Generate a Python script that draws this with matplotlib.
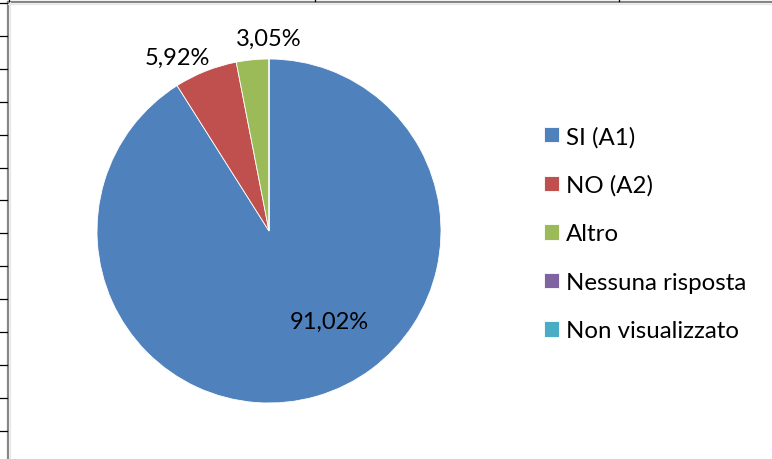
import numpy as np
import matplotlib
matplotlib.use("Agg")
import matplotlib.pyplot as plt

# data
categories = ["SI (A1)", "NO (A2)", "Altro", "Nessuna risposta", "Non visualizzato"]
values = [91.02, 5.92, 3.05, 0.0, 0.0]
colors = ["#4F81BD", "#C0504D", "#9BBB59", "#8064A2", "#4BACC6"]

# label placement (radial distance, angular nudge in degrees)
label_dist = [0.63, 1.14, 1.12, 0, 0]
label_nudge = [17.5, 6.3, -5.5, 0, 0]

W, H = 772, 460
plt.rcParams['font.family'] = ['Lato', 'DejaVu Sans']

fig = plt.figure(figsize=(W / 100, H / 100), dpi=100)

# spreadsheet background: frame and row/column lines
bg = fig.add_axes([0, 0, 1, 1])
bg.set_xlim(0, W)
bg.set_ylim(H, 0)
bg.axis('off')
bg.plot([8, 8], [3, H], color='#868686', lw=1.6)
bg.plot([8, W], [3, 3], color='#868686', lw=1.6)
bg.plot([10, 10], [3, H], color='#e6e6e6', lw=0.8)
bg.plot([8, W], [5, 5], color='#e6e6e6', lw=0.8)
for y in np.arange(4, H, 32.9):
    bg.plot([0, 7], [y, y], color='black', lw=0.9)
for x in [9, 315, 619]:
    bg.plot([x, x], [0, 2], color='black', lw=0.9)

# pie
cx, cy, r = 269, 232, 172
ax = fig.add_axes([(cx - r) / W, (H - cy - r) / H, 2 * r / W, 2 * r / H])
wedges, _ = ax.pie(values, colors=colors, startangle=90, counterclock=False,
                   radius=1, wedgeprops=dict(edgecolor='white', linewidth=0.6))
ax.set_xlim(-1, 1)
ax.set_ylim(-1, 1)
ax.set_aspect('equal')
ax.axis('off')

for w, v, d, n in zip(wedges, values, label_dist, label_nudge):
    if v <= 0:
        continue
    ang = np.deg2rad((w.theta1 + w.theta2) / 2 + n)
    ax.text(d * np.cos(ang), d * np.sin(ang), f"{v:.2f}%".replace('.', ','),
            ha='center', va='center', fontsize=17, color='black', clip_on=False)

leg = fig.legend(wedges, categories, loc='upper left',
                 bbox_to_anchor=(534 / W, 1 - 117 / H), frameon=False,
                 fontsize=17.3, handlelength=0.62, handleheight=0.62,
                 handletextpad=0.32, labelspacing=1.14, borderaxespad=0)

fig.savefig("out.png", dpi=100)
